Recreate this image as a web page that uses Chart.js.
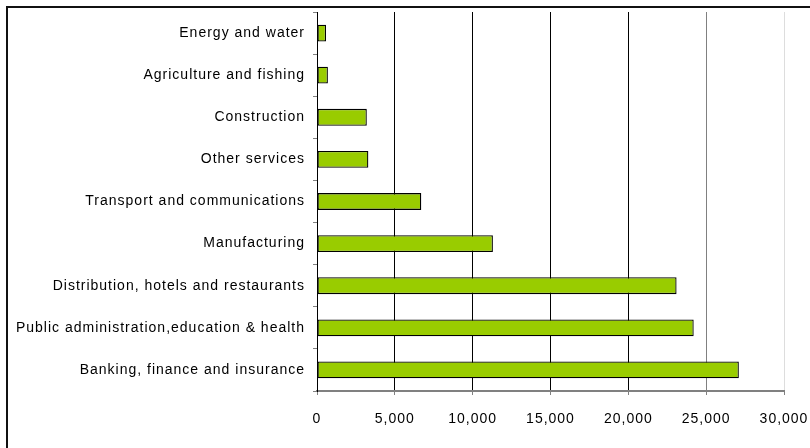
<!DOCTYPE html>
<html>
<head>
<meta charset="utf-8">
<script src="https://cdn.jsdelivr.net/npm/chart.js@4/dist/chart.umd.min.js"></script>
<style>
  html, body { margin: 0; padding: 0; background: #fff; }
  #wrap { width: 810px; height: 448px; position: relative; }
</style>
</head>
<body>
<div id="wrap"><canvas id="chart" width="810" height="448"></canvas></div>
<script>
//categories, top to bottom
const sectors = [
  "Energy and water",
  "Agriculture and fishing",
  "Construction",
  "Other services",
  "Transport and communications",
  "Manufacturing",
  "Distribution, hotels and restaurants",
  "Public administration,education & health",
  "Banking, finance and insurance",
];
//values
const values = [580, 700, 3200, 3300, 6700, 11300, 23100, 24200, 27100];
//x axis ticks
const xMax = 30000;
const xStep = 5000;

//frame round the chart (only top and left edges show)
const framePlugin = {
  id: "frame",
  beforeDraw(chart) {
    const ctx = chart.ctx;
    ctx.letterSpacing = "1px";
    ctx.save();
    ctx.fillStyle = "#ffffff";
    ctx.fillRect(0, 0, chart.width, chart.height);
    ctx.strokeStyle = "#111";
    ctx.lineWidth = 2;
    ctx.beginPath();
    ctx.moveTo(7, chart.height);
    ctx.lineTo(7, 7);
    ctx.lineTo(chart.width, 7);
    ctx.stroke();
    ctx.restore();
  },
};

const gridColor = (ctx) => {
  const v = ctx.tick ? ctx.tick.value : 0;
  if (v >= 30000) return "#dddddd";
  if (v >= 25000) return "#808080";
  return "#000000";
};

const font = { family: "Liberation Sans, Arial, sans-serif", size: 14 };

new Chart(document.getElementById("chart"), {
  type: "bar",
  plugins: [framePlugin],
  data: {
    labels: sectors,
    datasets: [
      {
        data: values,
        backgroundColor: "#99cc00",
        borderColor: "#000000",
        borderWidth: 1.3,
        borderSkipped: false,
        categoryPercentage: 1,
        barPercentage: 0.4,
      },
    ],
  },
  options: {
    indexAxis: "y",
    responsive: false,
    animation: false,
    layout: { padding: { top: 12, right: 26, left: 0, bottom: 0 } },
    plugins: {
      legend: { display: false },
      tooltip: { enabled: false },
    },
    scales: {
      x: {
        min: 0,
        max: xMax,
        ticks: {
          stepSize: xStep,
          color: "#000",
          padding: 16,
          font: font,
          callback: (v) => v.toLocaleString("en-US"),
        },
        grid: {
          color: gridColor,
          tickColor: "#808080",
          tickLength: 4,
          lineWidth: 1,
        },
        border: { color: "#808080", width: 2 },
        afterFit: (scale) => {
          scale.height = 57;
          scale.paddingRight = 0;
          scale.paddingLeft = 0;
        },
      },
      y: {
        ticks: {
          color: "#000",
          padding: 8,
          font: font,
        },
        grid: {
          offset: true,
          drawOnChartArea: false,
          tickColor: "#808080",
          tickLength: 4,
        },
        border: { color: "#000000", width: 1 },
        afterFit: (scale) => {
          scale.width = 317;
          scale.paddingTop = 0;
          scale.paddingBottom = 0;
        },
      },
    },
  },
});
</script>
</body>
</html>
